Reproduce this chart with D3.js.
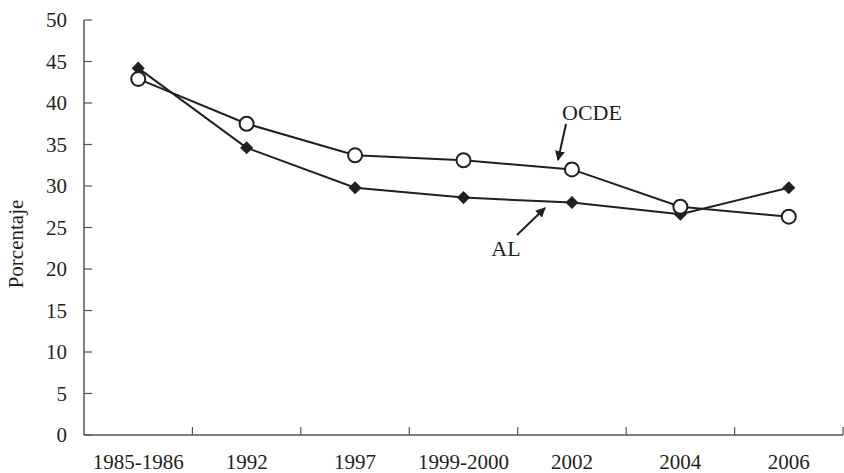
<!DOCTYPE html>
<html><head><meta charset="utf-8">
<script src="https://cdn.jsdelivr.net/npm/d3@7"></script>
<style>body{margin:0;background:#fff}svg{display:block}text{font-family:"Liberation Serif","Times New Roman",serif;fill:#231f20}</style>
</head><body><svg id="c" width="844" height="473"></svg>
<script>
const categories = ["1985-1986","1992","1997","1999-2000","2002","2004","2006"];
const alValues   = [44.2, 34.6, 29.8, 28.6, 28.0, 26.6, 29.8];
const ocdeValues = [42.9, 37.5, 33.7, 33.1, 32.0, 27.5, 26.3];
const yTicks = [0,5,10,15,20,25,30,35,40,45,50];

const svg = d3.select("#c");
const x = d3.scaleBand().domain(categories).range([84, 843]);
const y = d3.scaleLinear().domain([0, 50]).range([435, 20]);
const ink = "#231f20", axisCol = "#555";

// y axis
svg.append("line").attr("x1",84).attr("x2",84).attr("y1",y(50)).attr("y2",y(0)).attr("stroke",axisCol).attr("stroke-width",1.5);
yTicks.forEach(t=>{
  svg.append("line").attr("x1",84).attr("x2",92).attr("y1",y(t)).attr("y2",y(t)).attr("stroke",axisCol).attr("stroke-width",1.2);
  svg.append("text").attr("x",67).attr("y",y(t)).attr("dy","0.35em").attr("text-anchor","end").attr("font-size",21).text(t);
});
// x axis
svg.append("line").attr("x1",84).attr("x2",843).attr("y1",y(0)).attr("y2",y(0)).attr("stroke",axisCol).attr("stroke-width",1.5);
categories.forEach((c,i)=>{
  const xe = x(c)+x.bandwidth();
  svg.append("line").attr("x1",xe).attr("x2",xe).attr("y1",y(0)).attr("y2",y(0)-8).attr("stroke",axisCol).attr("stroke-width",1.2);
  svg.append("text").attr("x",x(c)+x.bandwidth()/2).attr("y",469).attr("text-anchor","middle").attr("font-size",21).text(c);
});
svg.append("text").attr("transform","translate(23,244) rotate(-90)").attr("text-anchor","middle").attr("font-size",21).text("Porcentaje");

const cx = c => x(c)+x.bandwidth()/2;
const line = d3.line().x((d,i)=>cx(categories[i])).y(d=>y(d));
svg.append("path").attr("d",line(ocdeValues)).attr("fill","none").attr("stroke",ink).attr("stroke-width",2);
svg.append("path").attr("d",line(alValues)).attr("fill","none").attr("stroke",ink).attr("stroke-width",2);

// AL diamonds
svg.selectAll(".dia").data(alValues).enter().append("path")
  .attr("d", d3.symbol().type(d3.symbolSquare).size(85))
  .attr("transform",(d,i)=>`translate(${cx(categories[i])},${y(d)}) rotate(45)`)
  .attr("fill",ink);
// OCDE circles
svg.selectAll(".cir").data(ocdeValues).enter().append("circle")
  .attr("cx",(d,i)=>cx(categories[i])).attr("cy",d=>y(d)).attr("r",7)
  .attr("fill","#fff").attr("stroke",ink).attr("stroke-width",2);

// annotations
const defs = svg.append("defs");
defs.append("marker").attr("id","ah").attr("viewBox","0 0 10 10").attr("refX",9).attr("refY",5)
  .attr("markerWidth",5).attr("markerHeight",5).attr("orient","auto")
  .append("path").attr("d","M0,0L10,5L0,10z").attr("fill",ink);
svg.append("text").attr("x",592).attr("y",120).attr("text-anchor","middle").attr("font-size",22).text("OCDE");
svg.append("line").attr("x1",566).attr("y1",124).attr("x2",558).attr("y2",160).attr("stroke",ink).attr("stroke-width",2).attr("marker-end","url(#ah)");
svg.append("text").attr("x",506).attr("y",256).attr("text-anchor","middle").attr("font-size",22).text("AL");
svg.append("line").attr("x1",517).attr("y1",235).attr("x2",545).attr("y2",208).attr("stroke",ink).attr("stroke-width",2).attr("marker-end","url(#ah)");
</script></body></html>
